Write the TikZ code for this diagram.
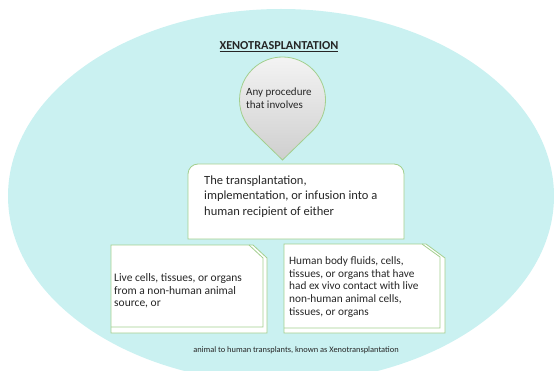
\documentclass[tikz,border=0pt]{standalone}
\usepackage{fontspec}
\setmainfont{Carlito}
\usetikzlibrary{calc}
\begin{document}
\begin{tikzpicture}[x=1pt,y=1pt,
  green line/.style={draw=boxgreen, line width=0.8pt},
  txt/.style={inner sep=0pt, align=left, text=txtgray, anchor=west},
]
\definecolor{bgcyan}{HTML}{CAF1F1}
\definecolor{boxgreen}{HTML}{A3CF8E}
\definecolor{txtgray}{HTML}{262626}
\useasboundingbox (0,0) rectangle (554,370);
% background ellipse
\begin{scope}
\clip (0,0) rectangle (554,370);
\fill[bgcyan] (281,174) ellipse[x radius=273, y radius=187];
\end{scope}
% title
\node[inner sep=0pt, text=txtgray, font=\fontsize{12.2}{14}\selectfont\bfseries] (title) at (279,323) {\underline{XENOTRASPLANTATION}};
% teardrop
\shade[top color=gray!8, bottom color=gray!38, draw=boxgreen, line width=0.8pt]
  (282.5,210) -- ($(282.5,270)+(-45.8:43)$) arc[start angle=-45.8, end angle=225.8, radius=43] -- cycle;
\node[txt, font=\fontsize{11}{13}\selectfont] (proc) at (246,271.5) {Any procedure\\that involves};
% main box
\filldraw[fill=white, green line] (188,131) -- (188,196) arc[start angle=180, end angle=90, radius=10] -- (394,206) arc[start angle=90, end angle=0, radius=10] -- (404,131) -- cycle;
\node[txt, font=\fontsize{12.5}{15.5}\selectfont] (main) at (204,173.5) {The transplantation,\\implementation, or infusion into a\\human recipient of either};
% left box
\filldraw[fill=white, green line] (111,37) -- (111,125) -- (253,125) -- (267,112) -- (267,37) -- cycle;
\draw[green line] (111,43) -- (263,43) -- (263,112) -- (249,125);
\node[txt, font=\fontsize{11.5}{12.7}\selectfont] (left) at (114,79) {Live cells, tissues, or organs\\from a non-human animal\\source, or};
% right box
\filldraw[fill=white, green line] (284,37) -- (284,126) -- (426,126) -- (445,112) -- (445,37) -- cycle;
\draw[green line] (284,42) -- (440,42) -- (440,113) -- (422,126);
\node[txt, font=\fontsize{11.3}{12.8}\selectfont] (right) at (289,83) {Human body fluids, cells,\\tissues, or organs that have\\had ex vivo contact with live\\non-human animal cells,\\tissues, or organs};
% caption
\node[inner sep=0pt, text=txtgray, font=\fontsize{8.4}{10}\selectfont] (cap) at (296,20) {animal to human transplants, known as Xenotransplantation};
\end{tikzpicture}
\end{document}
